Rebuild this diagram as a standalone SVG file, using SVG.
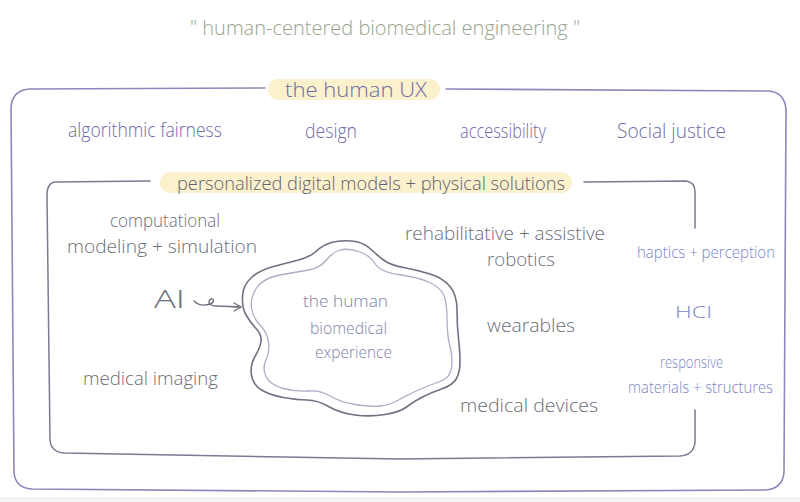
<svg xmlns="http://www.w3.org/2000/svg" width="800" height="502" viewBox="0 0 800 502">
  <defs>
    <marker id="arr" markerWidth="10" markerHeight="10" refX="8" refY="5" orient="auto" markerUnits="userSpaceOnUse">
      <path d="M1,1 L8,5 L1,9" fill="none" stroke="#6f7080" stroke-width="1.3" stroke-linecap="round"/>
    </marker>
  </defs>
  <style>
    text { font-family: "Open Sans", "Noto Sans", "DejaVu Sans", sans-serif; font-weight: 300; text-anchor: start; }
    .title { fill: #98a48e; font-size: 21px; }
    .ux { fill: #6f6aa6; font-size: 20px; }
    .inner { fill: #5f5f70; font-size: 18px; }
    .gray { fill: #6b6d78; font-size: 19px; }
    .cloudt { fill: #7c82a8; font-size: 17px; }
    .blue { fill: #7a86c8; font-size: 16px; }
    .hl { fill: #fbf1cc; }
    .outer { fill: none; stroke: #8c88bb; stroke-width: 1.6; stroke-linecap: round; }
    .innerbox { fill: none; stroke: #7b7a92; stroke-width: 1.5; stroke-linecap: round; }
  </style>
  <rect x="0" y="0" width="800" height="502" fill="#ffffff"/>
  <rect x="0" y="497" width="800" height="5" fill="#f3f3f3"/>

  <g id="title">
    <text class="title" x="190" y="35" textLength="390" lengthAdjust="spacingAndGlyphs">" human-centered  biomedical engineering "</text>
  </g>

  <g id="human-ux">
    <path class="outer" d="M265,88 L30,89 Q12,90 11,108 L14,472 Q15,488 32,489 L400,492 L765,490 Q783,489 784,472 L786,110 Q785,92 768,91 L446,89"/>
    <rect class="hl" x="268" y="79" width="172" height="21" rx="10"/>
    <text class="ux" x="285" y="97" textLength="142" lengthAdjust="spacingAndGlyphs">the human UX</text>
    <text class="ux" x="68" y="137" textLength="154" lengthAdjust="spacingAndGlyphs">algorithmic fairness</text>
    <text class="ux" x="305" y="138" textLength="52" lengthAdjust="spacingAndGlyphs">design</text>
    <text class="ux" x="460" y="138" textLength="86" lengthAdjust="spacingAndGlyphs">accessibility</text>
    <text class="ux" x="617" y="138" textLength="109" lengthAdjust="spacingAndGlyphs">Social justice</text>
  </g>

  <g id="personalized">
    <path class="innerbox" d="M150,181 L55,182 Q47,183 47,195 L50,440 Q51,452 64,453 L400,459 L680,456 Q694,455 695,442 L695,410"/>
    <path class="innerbox" d="M584,182 L686,181 Q695,182 695,192 L695,228"/>
    <rect class="hl" x="160" y="172" width="412" height="21" rx="10"/>
    <text class="inner" x="177" y="190" textLength="388" lengthAdjust="spacingAndGlyphs">personalized digital models + physical solutions</text>
  </g>

  <g id="experience">
    <path fill="none" stroke="#6f7080" stroke-width="1.6" d="M242.5,296.5 Q243,285 251.5,277.5 Q260,270 273.5,266.5 Q287,263 298.5,260 Q310,257 316.5,251 Q323,245 331.5,242.5 Q340,240 351.5,241 Q363,242 370,248.5 Q377,255 383.5,260 Q390,265 403.5,267.5 Q417,270 430,274 Q443,278 450,286.5 Q457,295 457,310 Q457,325 458.5,338.5 Q460,352 460,362 Q460,372 456.5,378.5 Q453,385 441.5,389 Q430,393 421.5,397.5 Q413,402 406.5,407 Q400,412 385,414.5 Q370,417 355,415 Q340,413 328.5,406.5 Q317,400 307,400 Q297,400 283.5,397.5 Q270,395 261.5,390 Q253,385 251.5,375 Q250,365 255,356.5 Q260,348 261,341.5 Q262,335 256,328.5 Q250,322 246,315 Q242,308 242.5,296.5 Z"/>
    <path fill="none" stroke="#a9aec4" stroke-width="1.3" d="M256.5,288 Q263,278 280,275 Q297,272 308.5,270 Q320,268 326.5,260 Q333,252 340,250 Q347,248 358.5,251.5 Q370,255 375,263.5 Q380,272 398.5,274.5 Q417,277 428.5,282 Q440,287 443.5,294.5 Q447,302 447,318.5 Q447,335 450,346.5 Q453,358 451.5,368 Q450,378 440,381.5 Q430,385 418.5,390 Q407,395 398.5,400 Q390,405 380,406 Q370,407 355,404.5 Q340,402 330,396 Q320,390 308.5,391 Q297,392 283.5,388.5 Q270,385 266,376.5 Q262,368 266,360 Q270,352 268.5,342 Q267,332 260,325 Q253,318 251.5,308 Q250,298 256.5,288 Z"/>
    <text class="cloudt" x="303" y="307" textLength="85" lengthAdjust="spacingAndGlyphs">the human</text>
    <text class="cloudt" x="310" y="334" textLength="77" lengthAdjust="spacingAndGlyphs">biomedical</text>
    <text class="cloudt" x="315" y="358" textLength="77" lengthAdjust="spacingAndGlyphs">experience</text>
  </g>

  <g id="left-topics">
    <text class="gray" x="110" y="227" textLength="110" lengthAdjust="spacingAndGlyphs">computational</text>
    <text class="gray" x="67" y="253" textLength="190" lengthAdjust="spacingAndGlyphs">modeling + simulation</text>
    <text class="gray" x="154" y="308" style="font-size:26px" textLength="31" lengthAdjust="spacingAndGlyphs">AI</text>
    <text class="gray" x="83" y="385" textLength="135" lengthAdjust="spacingAndGlyphs">medical imaging</text>
  </g>

  <g id="right-topics">
    <text class="gray" x="405" y="240" textLength="200" lengthAdjust="spacingAndGlyphs">rehabilitative + assistive</text>
    <text class="gray" x="487" y="266" textLength="68" lengthAdjust="spacingAndGlyphs">robotics</text>
    <text class="gray" x="487" y="332" textLength="88" lengthAdjust="spacingAndGlyphs">wearables</text>
    <text class="gray" x="460" y="412" textLength="138" lengthAdjust="spacingAndGlyphs">medical devices</text>
  </g>

  <g id="hci-topics">
    <text class="blue" x="637" y="258" textLength="138" lengthAdjust="spacingAndGlyphs">haptics + perception</text>
    <text class="blue" x="675" y="318" textLength="37" lengthAdjust="spacingAndGlyphs">HCI</text>
    <text class="blue" x="660" y="368" textLength="63" lengthAdjust="spacingAndGlyphs">responsive</text>
    <text class="blue" x="628" y="393" textLength="145" lengthAdjust="spacingAndGlyphs">materials + structures</text>
  </g>

  <g id="connectors">
    <path fill="none" stroke="#6f7080" stroke-width="1.4" stroke-linecap="round" marker-end="url(#arr)" d="M194,301 C198,305 204,306 210,304 C215,302 214,298 211,299 C207,301 209,306 216,306 C225,306 232,307 241,307"/>
  </g>
</svg>
